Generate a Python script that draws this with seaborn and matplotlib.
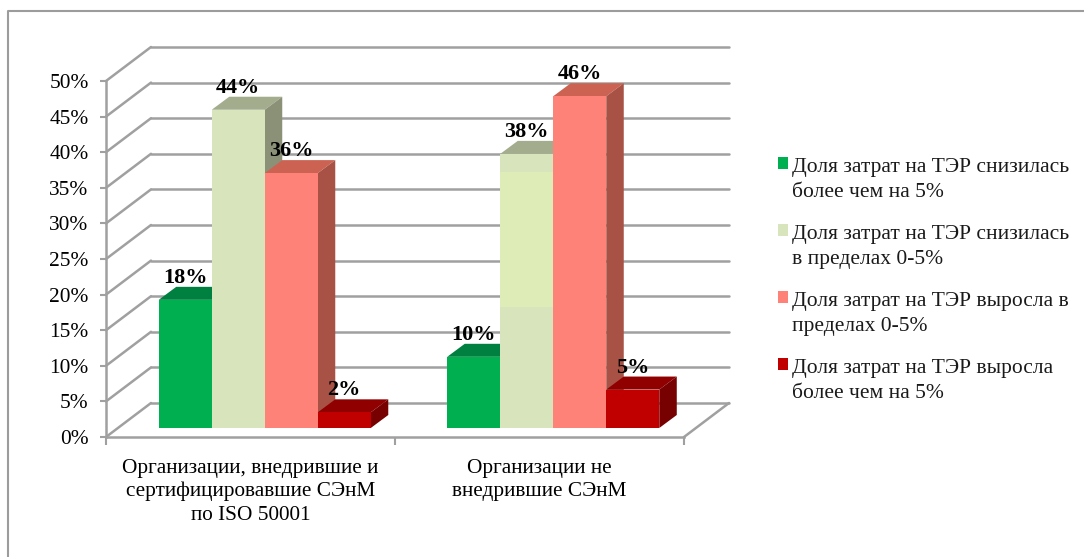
import pandas as pd
import seaborn as sns
import matplotlib.pyplot as plt
from matplotlib.patches import Patch, Polygon, Rectangle

categories = ["Организации, внедрившие и\nсертифицировавшие СЭнМ\nпо ISO 50001",
              "Организации не\nвнедрившие СЭнМ"]
series = ["Доля затрат на ТЭР снизилась\nболее чем на 5%",
          "Доля затрат на ТЭР снизилась\nв пределах 0-5%",
          "Доля затрат на ТЭР выросла в\nпределах 0-5%",
          "Доля затрат на ТЭР выросла\nболее чем на 5%"]
# bar heights as measured, printed labels are the rounded ones from the chart
group_1 = [18, 44.7, 35.8, 2.2]
group_2 = [10, 38.5, 46.6, 5.4]
labels_1 = ["18%", "44%", "36%", "2%"]
labels_2 = ["10%", "38%", "46%", "5%"]
y_ticks = [0, 5, 10, 15, 20, 25, 30, 35, 40, 45, 50]

front_colors = ["#00b050", "#d7e4bc", "#ff8278", "#c00000"]
top_colors = ["#008040", "#a3ad8e", "#cc6352", "#900000"]
side_colors = ["#006a35", "#8a9177", "#a85245", "#770000"]
grid_color = "#a0a0a0"

W, H = 1084, 557


def add_px_axes(left, right, top, bottom):
    return fig.add_axes([left / W, 1 - bottom / H, (right - left) / W, (bottom - top) / H])


df = pd.DataFrame({
    "category": [c for c in categories for _ in series],
    "series": series * 2,
    "value": group_1 + group_2,
})

sns.set_theme(style="white")
plt.rcParams["font.family"] = ["Liberation Serif", "DejaVu Sans"]

fig = plt.figure(figsize=(W / 100, H / 100), dpi=100, facecolor="white")

# outer frame of the pasted chart
fig.add_artist(plt.Line2D([8 / W, 8 / W, 1], [0, 1 - 11 / H, 1 - 11 / H], color="#9c9c9c", lw=1.5))

# front plane of the 3d box: axis, ticks and category labels live here
ax = add_px_axes(106, 684, 81, 437)
ax.set_xlim(-0.5, 1.5)
ax.set_ylim(0, 50)
ax.patch.set_alpha(0)
for side in ["top", "right"]:
    ax.spines[side].set_visible(False)
for side in ["left", "bottom"]:
    ax.spines[side].set_color(grid_color)
    ax.spines[side].set_linewidth(1.8)
ax.set_yticks(y_ticks, [f"{v}%" for v in y_ticks])
ax.set_xticks([0, 1], categories)
ax.set_xticks([-0.5, 0.5, 1.5], minor=True)
ax.tick_params(axis="y", labelsize=15.4, length=4, width=1.5, color=grid_color, pad=8.5, left=True,
               labelcolor="black")
ax.tick_params(axis="x", which="major", labelsize=15.3, length=0, pad=15.5, labelcolor="black")
ax.tick_params(axis="x", which="minor", length=6, width=1.5, color=grid_color, bottom=True)
for lab in ax.get_xticklabels():
    lab.set_linespacing(1.3)

# walls: diagonal and back line for every y tick
wall_dx = 45 / 289
wall_dy = 34 / 7.12
for v in y_ticks:
    ax.plot([-0.5, -0.5 + wall_dx], [v, v + wall_dy], color=grid_color, lw=1.8, clip_on=False, zorder=1)
    ax.plot([-0.5 + wall_dx, 1.5 + wall_dx], [v + wall_dy, v + wall_dy], color=grid_color, lw=1.8,
            clip_on=False, zorder=1)
ax.plot([1.5, 1.5 + wall_dx], [0, wall_dy], color=grid_color, lw=1.8, clip_on=False, zorder=1)

# bars stand inside the box, so they get their own shifted axes
bar_ax = add_px_axes(120.5, 697.5, 72, 428)
sns.barplot(data=df, x="category", y="value", hue="series", hue_order=series, palette=front_colors,
            width=0.735, gap=0, saturation=1, legend=False, ax=bar_ax)
bar_ax.set_xlim(-0.5, 1.5)
bar_ax.set_ylim(0, 50)
bar_ax.axis("off")

bar_dx = 17.5 / 288.5
bar_dy = 13 / 7.12
for k, container in enumerate(bar_ax.containers):
    for bar, label in zip(container, [labels_1[k], labels_2[k]]):
        x0 = bar.get_x()
        x1 = x0 + bar.get_width()
        h = bar.get_height()
        bar.set_zorder(10 + 2 * k)
        bar.set_linewidth(0)
        top = Polygon([(x0, h), (x1, h), (x1 + bar_dx, h + bar_dy), (x0 + bar_dx, h + bar_dy)],
                      facecolor=top_colors[k], edgecolor="none", clip_on=False, zorder=9 + 2 * k)
        side = Polygon([(x1, 0), (x1 + bar_dx, bar_dy), (x1 + bar_dx, h + bar_dy), (x1, h)],
                       facecolor=side_colors[k], edgecolor="none", clip_on=False, zorder=9 + 2 * k)
        bar_ax.add_patch(top)
        bar_ax.add_patch(side)
        bar_ax.annotate(label, (x0 + bar.get_width() / 2, h), xytext=(0, 22), textcoords="offset pixels",
                        ha="center", va="center", fontsize=16, fontweight="bold", color="black",
                        annotation_clip=False, zorder=40)

# lighter band on the second pale bar, left over in the original scan
pale = bar_ax.containers[1][1]
bar_ax.add_patch(Rectangle((pale.get_x(), 17), pale.get_width(), 19, facecolor="#f0ffb0", alpha=0.3,
                           edgecolor="none", zorder=30))

handles = [Patch(facecolor=c, edgecolor="none", label=s) for c, s in zip(front_colors, series)]
leg = fig.legend(handles=handles, loc="upper left", bbox_to_anchor=(778 / W, 1 - 158 / H), frameon=False,
                 fontsize=15.5, handlelength=0.46, handleheight=0.46, handletextpad=0.19, labelspacing=1.07,
                 borderpad=0, borderaxespad=0, labelcolor="#1a1a1a")
for t in leg.get_texts():
    t.set_linespacing(1.42)
# squares sit on the first text line
for p in leg.get_patches():
    p.set_y(p.get_y() + 11.5)

fig.savefig("out.png", dpi=100)
